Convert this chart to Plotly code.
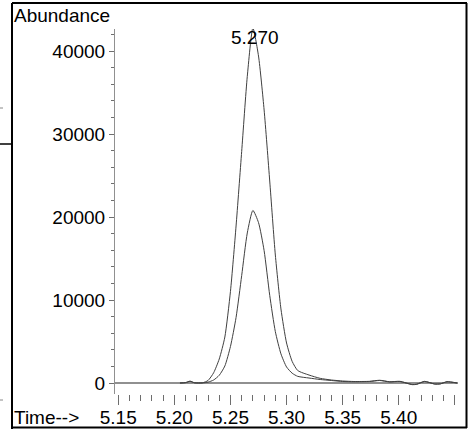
"""Chromatogram peak at 5.270 min (two ion traces)"""
import plotly.graph_objects as go

# retention time axis (min) and the two abundance traces
times = [5.205, 5.210, 5.214, 5.218, 5.225, 5.230, 5.235, 5.240, 5.245, 5.250,
         5.255, 5.260, 5.265, 5.270, 5.275, 5.280, 5.285, 5.290, 5.295, 5.300,
         5.305, 5.310, 5.320, 5.330, 5.340, 5.350, 5.360, 5.374, 5.383, 5.392,
         5.401, 5.412, 5.416, 5.423, 5.432, 5.437, 5.443, 5.452]
outer_trace = [0, 50, 220, 30, 20, 300, 1230, 2890, 5540, 11040,
               18920, 27900, 36950, 42780, 39400, 32900, 24340, 15420, 8920, 4820,
               2600, 1500, 960, 560, 360, 240, 180, 200, 330, 150,
               200, -180, -150, 200, -120, -100, 160, 0]
inner_trace = [0, 40, 200, 20, 10, 100, 360, 930, 2050, 4400,
               7900, 12940, 18080, 20790, 19330, 15950, 10560, 6190, 3510, 1930,
               1180, 800, 600, 420, 300, 180, 150, 180, 300, 130,
               180, -200, -160, 180, -130, -110, 140, 0]

peak_time = 5.270
peak_label = "5.270"

x_tickvals = [5.15, 5.20, 5.25, 5.30, 5.35, 5.40, 5.45]
x_ticktext = ["5.15", "5.20", "5.25", "5.30", "5.35", "5.40", ""]
y_tickvals = [0, 10000, 20000, 30000, 40000]
y_ticktext = ["0", "10000", "20000", "30000", "40000"]

W, H = 469, 429
L, R, T, B = 115, 11, 29, 35
FONT = "Arial, Liberation Sans, sans-serif"
TICK = "#6e6e6e"


def px(x):
    return (x - L) / (W - L - R)


def py(y):
    return (H - B - y) / (H - T - B)


fig = go.Figure()
for vals in (outer_trace, inner_trace):
    fig.add_trace(go.Scatter(
        x=times, y=vals, mode="lines", cliponaxis=False,
        line=dict(color="#404040", width=1, shape="spline", smoothing=0.6),
        hoverinfo="skip", showlegend=False,
    ))

fig.add_annotation(x=peak_time, xshift=2, yref="paper", y=py(50), text=peak_label,
                   showarrow=False, xanchor="center", yanchor="bottom",
                   font=dict(size=19, color="black"))
fig.add_annotation(xref="paper", yref="paper", x=px(12), y=py(28), text="Abundance",
                   showarrow=False, xanchor="left", yanchor="bottom",
                   font=dict(size=19, color="black"))
fig.add_annotation(xref="paper", yref="paper", x=px(12), y=py(430), text="Time-->",
                   showarrow=False, xanchor="left", yanchor="bottom",
                   font=dict(size=19, color="black"))

# window frame around the chart
frame = [
    (12, 3, 467, 3, 2, "black"),
    (12, 3, 12, 429, 2, "black"),
    (466.5, 3, 466.5, 428, 2, "black"),
    (12, 427.5, 467, 427.5, 2, "black"),
    (0, 144, 12, 144, 1.5, "black"),
    (0, 108, 3, 108, 1, "#888888"),
    (0, 400, 3, 400, 1, "#888888"),
]
for x0, y0, x1, y1, w, c in frame:
    fig.add_shape(type="line", xref="paper", yref="paper",
                  x0=px(x0), y0=py(y0), x1=px(x1), y1=py(y1),
                  line=dict(color=c, width=w))

fig.update_layout(
    template="none",
    width=W, height=H,
    margin=dict(l=L, r=R, t=T, b=B, autoexpand=False),
    paper_bgcolor="white", plot_bgcolor="white",
    font=dict(family=FONT, size=19, color="black"),
    xaxis=dict(
        range=[5.1471, 5.4528], showgrid=False, zeroline=False, showline=False,
        automargin=False,
        tickvals=x_tickvals, ticktext=x_ticktext,
        ticks="outside", ticklen=10, tickcolor=TICK, tickwidth=1,
        ticklabelstandoff=-4,
        minor=dict(dtick=0.01, tick0=5.15, ticks="outside", ticklen=6,
                   tickcolor=TICK, tickwidth=1),
        tickfont=dict(size=19, color="black"),
    ),
    yaxis=dict(
        range=[-1326, 42657], showgrid=False, automargin=False,
        zeroline=True, zerolinecolor="#909090", zerolinewidth=1.5,
        showline=True, linecolor="#909090", linewidth=1,
        tickvals=y_tickvals, ticktext=y_ticktext,
        ticks="outside", ticklen=5, tickcolor=TICK, tickwidth=1,
        minor=dict(dtick=2000, tick0=0, ticks="outside", ticklen=3,
                   tickcolor=TICK, tickwidth=1),
        tickfont=dict(size=19, color="black"),
    ),
)

fig.write_html("out.html", config={"displayModeBar": False},
               post_script="document.body.style.margin='0px';")
